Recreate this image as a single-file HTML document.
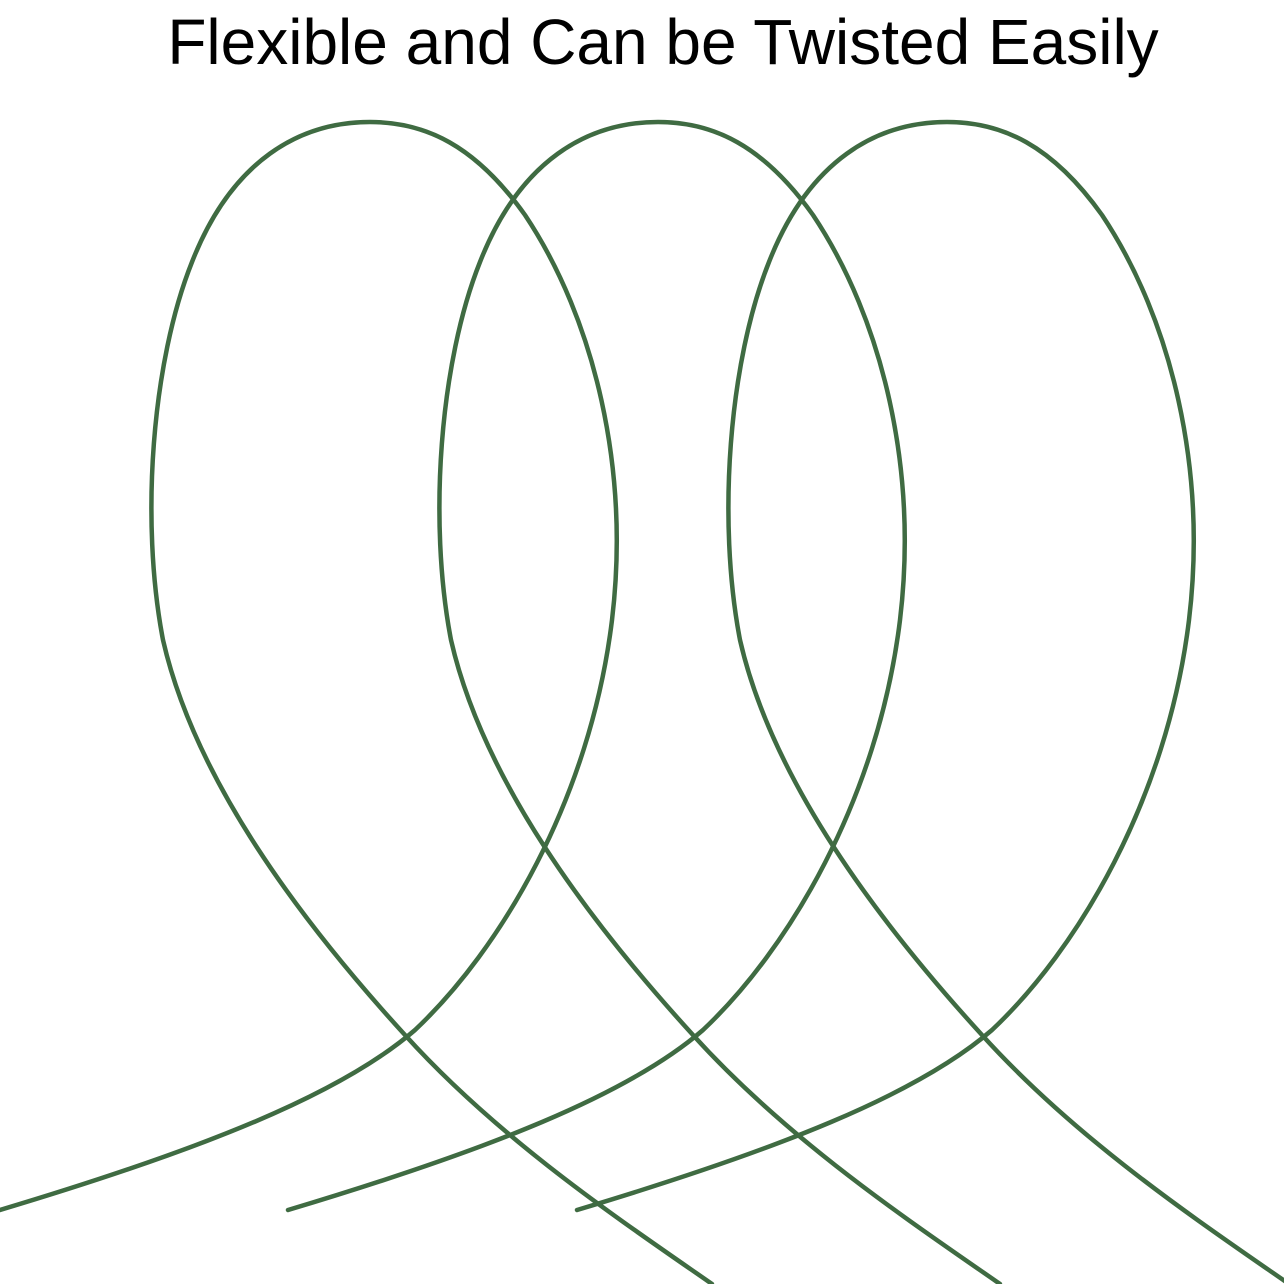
<!DOCTYPE html>
<html>
<head>
<meta charset="utf-8">
<style>
  html,body{margin:0;padding:0;background:#fff;}
  .wrap{position:relative;width:1284px;height:1284px;overflow:hidden;background:#fff;}
  .title{position:absolute;top:4px;left:0;width:1326px;text-align:center;
    font-family:"Liberation Sans",sans-serif;font-size:64px;color:#000;line-height:76px;}
  svg{position:absolute;left:0;top:0;}
</style>
</head>
<body>
<div class="wrap">
  <div class="title">Flexible and Can be Twisted Easily</div>
  <svg width="1284" height="1284" viewBox="0 0 1284 1284">
    <defs>
      <path id="loop" d="M0,1210 C200,1150 340,1095 415,1030 C500,950 590,800 612,620 C630,470 595,320 525,215 C475,145 425,122 370,122 C300,122 232,160 192,262 C152,362 140,520 163,640 C195,780 300,920 405,1035 C500,1140 620,1220 712,1284"
        fill="none" stroke="#3f6b42" stroke-width="4.5" stroke-linecap="round"/>
    </defs>
    <use href="#loop"/>
    <use href="#loop" transform="translate(288,0)"/>
    <use href="#loop" transform="translate(577,0)"/>
  </svg>
</div>
</body>
</html>
